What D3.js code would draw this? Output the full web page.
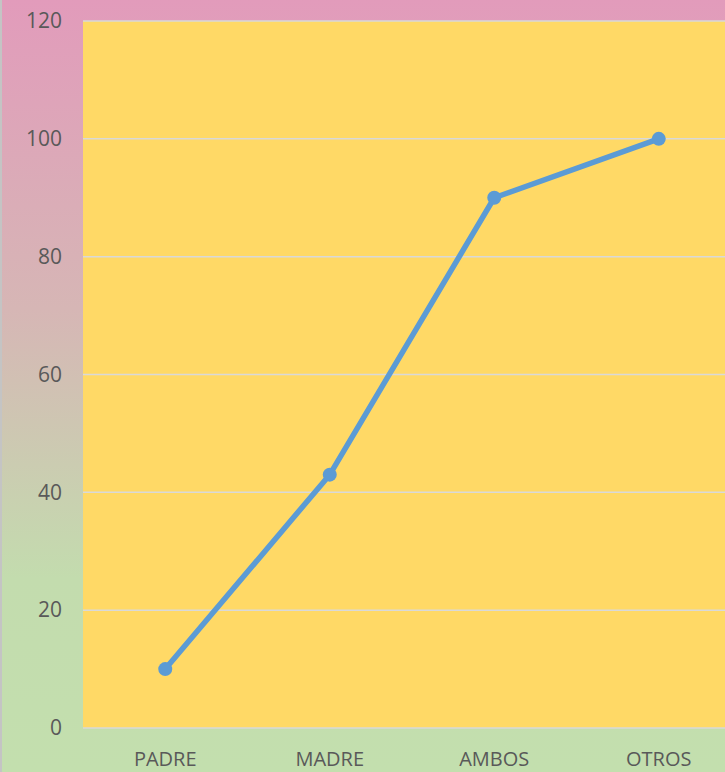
<!DOCTYPE html>
<html>
<head>
<meta charset="utf-8">
<script src="https://cdn.jsdelivr.net/npm/d3@7"></script>
<style>
  html, body { margin: 0; padding: 0; overflow: hidden; }
  svg { display: block; }
</style>
</head>
<body>
<div id="chart"></div>
<script>
// data
const categories = ['PADRE', 'MADRE', 'AMBOS', 'OTROS'];
const values = [10, 43, 90, 100];
const yTicks = [0, 20, 40, 60, 80, 100, 120];

const width = 725, height = 772;
const plot = { left: 83, top: 21, right: 741, bottom: 728 };

const svg = d3.select('#chart')
  .append('svg')
  .attr('width', width)
  .attr('height', height);

// background gradient pink -> green
const defs = svg.append('defs');
const grad = defs.append('linearGradient')
  .attr('id', 'bg')
  .attr('x1', 0).attr('y1', 0).attr('x2', 0).attr('y2', 1);
grad.append('stop').attr('offset', '0%').attr('stop-color', '#e29bbb');
grad.append('stop').attr('offset', '40%').attr('stop-color', '#d6b6b5');
grad.append('stop').attr('offset', '75%').attr('stop-color', '#c3dcae');
grad.append('stop').attr('offset', '100%').attr('stop-color', '#c3dfae');

svg.append('rect')
  .attr('width', width).attr('height', height)
  .attr('fill', 'url(#bg)');

// thin grey border on the left
svg.append('rect')
  .attr('x', 0).attr('y', 0).attr('width', 2).attr('height', height)
  .attr('fill', '#c4c4c4');

const xScale = d3.scaleBand()
  .domain(categories)
  .range([plot.left, plot.right]);

const yScale = d3.scaleLinear()
  .domain([0, 120])
  .range([plot.bottom, plot.top]);

// plot area
svg.append('rect')
  .attr('x', plot.left).attr('y', plot.top)
  .attr('width', plot.right - plot.left)
  .attr('height', plot.bottom - plot.top)
  .attr('fill', '#ffd966');

// gridlines
svg.append('g')
  .selectAll('line')
  .data(yTicks)
  .enter()
  .append('line')
  .attr('x1', plot.left).attr('x2', plot.right)
  .attr('y1', d => yScale(d)).attr('y2', d => yScale(d))
  .attr('stroke', '#d9d9d9')
  .attr('stroke-width', 1.5);

// y axis labels
const yAxis = svg.append('g')
  .attr('transform', `translate(${plot.left}, 0)`)
  .call(d3.axisLeft(yScale).tickValues(yTicks).tickSize(0).tickPadding(21));
yAxis.select('.domain').remove();
yAxis.selectAll('text')
  .style('font-family', 'Open Sans, sans-serif')
  .style('font-size', '21px')
  .attr('fill', '#595959');

// x axis labels
const xAxis = svg.append('g')
  .attr('transform', `translate(0, ${plot.bottom})`)
  .call(d3.axisBottom(xScale).tickSize(0).tickPadding(24));
xAxis.select('.domain').remove();
xAxis.selectAll('text')
  .style('font-family', 'Open Sans, sans-serif')
  .style('font-size', '20px')
  .attr('fill', '#595959');

const cx = d => xScale(d) + xScale.bandwidth() / 2;
const points = categories.map((c, i) => ({ cat: c, value: values[i] }));

const line = d3.line()
  .x(d => cx(d.cat))
  .y(d => yScale(d.value));

svg.append('path')
  .datum(points)
  .attr('fill', 'none')
  .attr('stroke', '#5b9bd5')
  .attr('stroke-width', 5.5)
  .attr('stroke-linejoin', 'round')
  .attr('d', line);

svg.append('g')
  .selectAll('circle')
  .data(points)
  .enter()
  .append('circle')
  .attr('cx', d => cx(d.cat))
  .attr('cy', d => yScale(d.value))
  .attr('r', 7)
  .attr('fill', '#5b9bd5');
</script>
</body>
</html>
